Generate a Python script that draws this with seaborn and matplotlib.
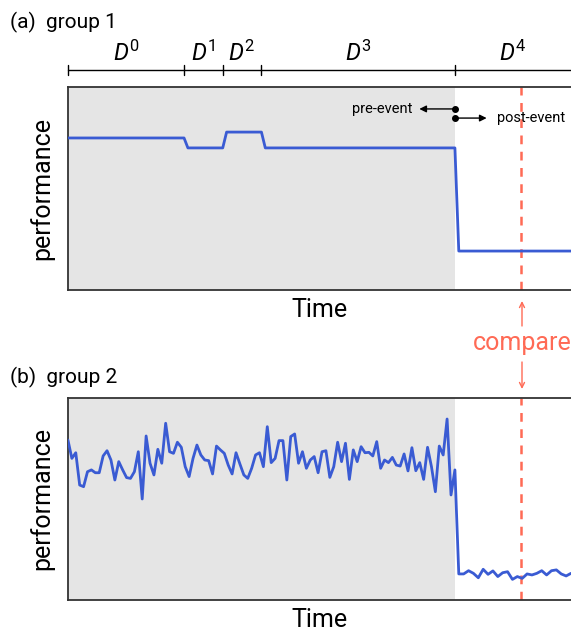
import numpy as np
import pandas as pd
import matplotlib.pyplot as plt
import matplotlib.patches as mpatches
import matplotlib.transforms as mtransforms
import seaborn as sns

# group 1: piecewise steps (time, performance)
time_g1 = [0, 30, 31, 40, 41, 50, 51, 100, 101, 130]
perf_g1 = [74.9, 74.9, 70.0, 70.0, 77.8, 77.8, 70.0, 70.0, 19.2, 19.2]

# group 2: noisy series, pre-event and post-event
perf_g2_pre = [79.2, 70.1, 72.9, 56.9, 56.1, 63.5, 64.4, 63.0, 63.0, 71.3,
               73.9, 69.3, 59.4, 68.5, 64.4, 60.6, 60.2, 63.5, 73.4, 50.0,
               81.2, 67.7, 61.9, 74.6, 67.7, 87.5, 73.4, 72.6, 78.1, 75.6,
               66.0, 61.1, 70.1, 76.7, 71.8, 69.3, 69.0, 62.4, 76.2, 74.3,
               72.6, 66.8, 62.4, 72.9, 67.3, 61.9, 60.2, 65.2, 71.8, 72.9,
               66.0, 85.8, 68.0, 70.1, 78.9, 78.9, 59.4, 80.9, 82.2, 67.7,
               73.4, 65.2, 69.3, 71.0, 63.0, 73.4, 73.9, 60.7, 66.0, 78.1,
               68.5, 77.6, 59.7, 74.3, 68.5, 75.9, 72.9, 73.1, 71.3, 78.4,
               65.2, 69.3, 68.0, 70.6, 66.8, 66.3, 72.3, 63.9, 75.4, 64.0,
               68.0, 59.7, 75.6, 66.0, 53.6, 76.2, 71.8, 89.6, 52.0, 64.4]
perf_g2_post = [12.9, 12.9, 14.5, 13.2, 11.0, 15.2, 12.7, 14.4, 11.6, 13.5,
                14.0, 10.2, 11.6, 10.7, 12.9, 12.4, 13.2, 14.5, 12.4, 14.5,
                14.9, 12.9, 11.9, 13.2]

segments = [0, 30, 40, 50, 100, 130]
seg_labels = ['0', '1', '2', '3', '4']
event_t = 100
compare_t = 117

time_g2 = np.concatenate([np.linspace(0, event_t, len(perf_g2_pre)),
                          np.linspace(event_t + 1, 130, len(perf_g2_post))])
df1 = pd.DataFrame({'time': time_g1, 'performance': perf_g1})
df2 = pd.DataFrame({'time': time_g2, 'performance': perf_g2_pre + perf_g2_post})

sns.set_style('white')
plt.rcParams['font.family'] = ['Roboto', 'DejaVu Sans']
plt.rcParams['text.color'] = 'black'
plt.rcParams['axes.labelcolor'] = 'black'
plt.rcParams['mathtext.fontset'] = 'custom'
plt.rcParams['mathtext.it'] = 'Roboto:italic'
plt.rcParams['mathtext.rm'] = 'Roboto'

blue = '#3a5bd3'
red = '#ff6a55'
shade = '#e5e5e5'

fig = plt.figure(figsize=(5.71, 6.37), dpi=100)
ax1 = fig.add_axes([0.119, 0.5447, 0.881, 0.3187])
ax2 = fig.add_axes([0.119, 0.0581, 0.881, 0.3171])

for ax, df in [(ax1, df1), (ax2, df2)]:
    ax.axvspan(0, event_t, color=shade, lw=0, zorder=0)
    sns.lineplot(data=df, x='time', y='performance', ax=ax, color=blue, lw=2, zorder=3)
    ax.axvline(compare_t, color=red, ls=(0, (3.5, 3)), lw=1.8, zorder=2)
    ax.set_xlim(0, 130)
    ax.set_ylim(0, 100)
    ax.set_xticks([])
    ax.set_yticks([])
    ax.set_xlabel('Time', fontsize=18, labelpad=6)
    ax.set_ylabel('performance', fontsize=18, labelpad=10)
    for s in ['left', 'top', 'bottom']:
        ax.spines[s].set_color('#333333')
        ax.spines[s].set_linewidth(1.3)
    ax.spines['right'].set_visible(False)

fig.text(0.017, 1 - 28 / 637, '(a)  group 1', fontsize=15, va='baseline')
fig.text(0.017, 1 - 383 / 637, '(b)  group 2', fontsize=15, va='baseline')

# segment bar above group 1
trans = mtransforms.blended_transform_factory(ax1.transData, fig.transFigure)
y_bar = 1 - 70 / 637
ax1.plot([0, 130], [y_bar, y_bar], transform=trans, color='black', lw=1, clip_on=False)
for s in segments[:-1]:
    ax1.plot([s, s], [y_bar - 5 / 637, y_bar + 5 / 637], transform=trans,
             color='black', lw=1, clip_on=False)
for i, lab in enumerate(seg_labels):
    mid = (segments[i] + segments[i + 1]) / 2
    ax1.text(mid, 1 - 61 / 637, r'$\mathit{D}^{' + lab + '}$', transform=trans,
             ha='center', va='baseline', fontsize=17)

# pre/post event markers
ax1.plot([event_t, event_t], [89.2, 84.7], 'o', color='black', ms=4, clip_on=False, zorder=5)
ax1.annotate('', xy=(90.8, 89.2), xytext=(event_t, 89.2),
             arrowprops=dict(arrowstyle='-|>', color='black', lw=1, mutation_scale=10,
                             shrinkA=0, shrinkB=0))
ax1.annotate('', xy=(108.2, 84.7), xytext=(event_t, 84.7),
             arrowprops=dict(arrowstyle='-|>', color='black', lw=1, mutation_scale=10,
                             shrinkA=0, shrinkB=0))
ax1.text(89.1, 89.2, 'pre-event', ha='right', va='center', fontsize=10.5)
ax1.text(110.8, 84.7, 'post-event', ha='left', va='center', fontsize=10.5)

# compare label between panels
xc = 522 / 571
fig.text(xc, 1 - 343 / 637, 'compare', color=red, fontsize=18, ha='center', va='center')
fig.patches.append(mpatches.FancyArrowPatch(
    (xc, 1 - 326 / 637), (xc, 1 - 301 / 637), transform=fig.transFigure,
    arrowstyle='->', color=red, lw=1, mutation_scale=9, shrinkA=0, shrinkB=0))
fig.patches.append(mpatches.FancyArrowPatch(
    (xc, 1 - 362 / 637), (xc, 1 - 389 / 637), transform=fig.transFigure,
    arrowstyle='->', color=red, lw=1, mutation_scale=9, shrinkA=0, shrinkB=0))

fig.savefig('out.png', dpi=100)
